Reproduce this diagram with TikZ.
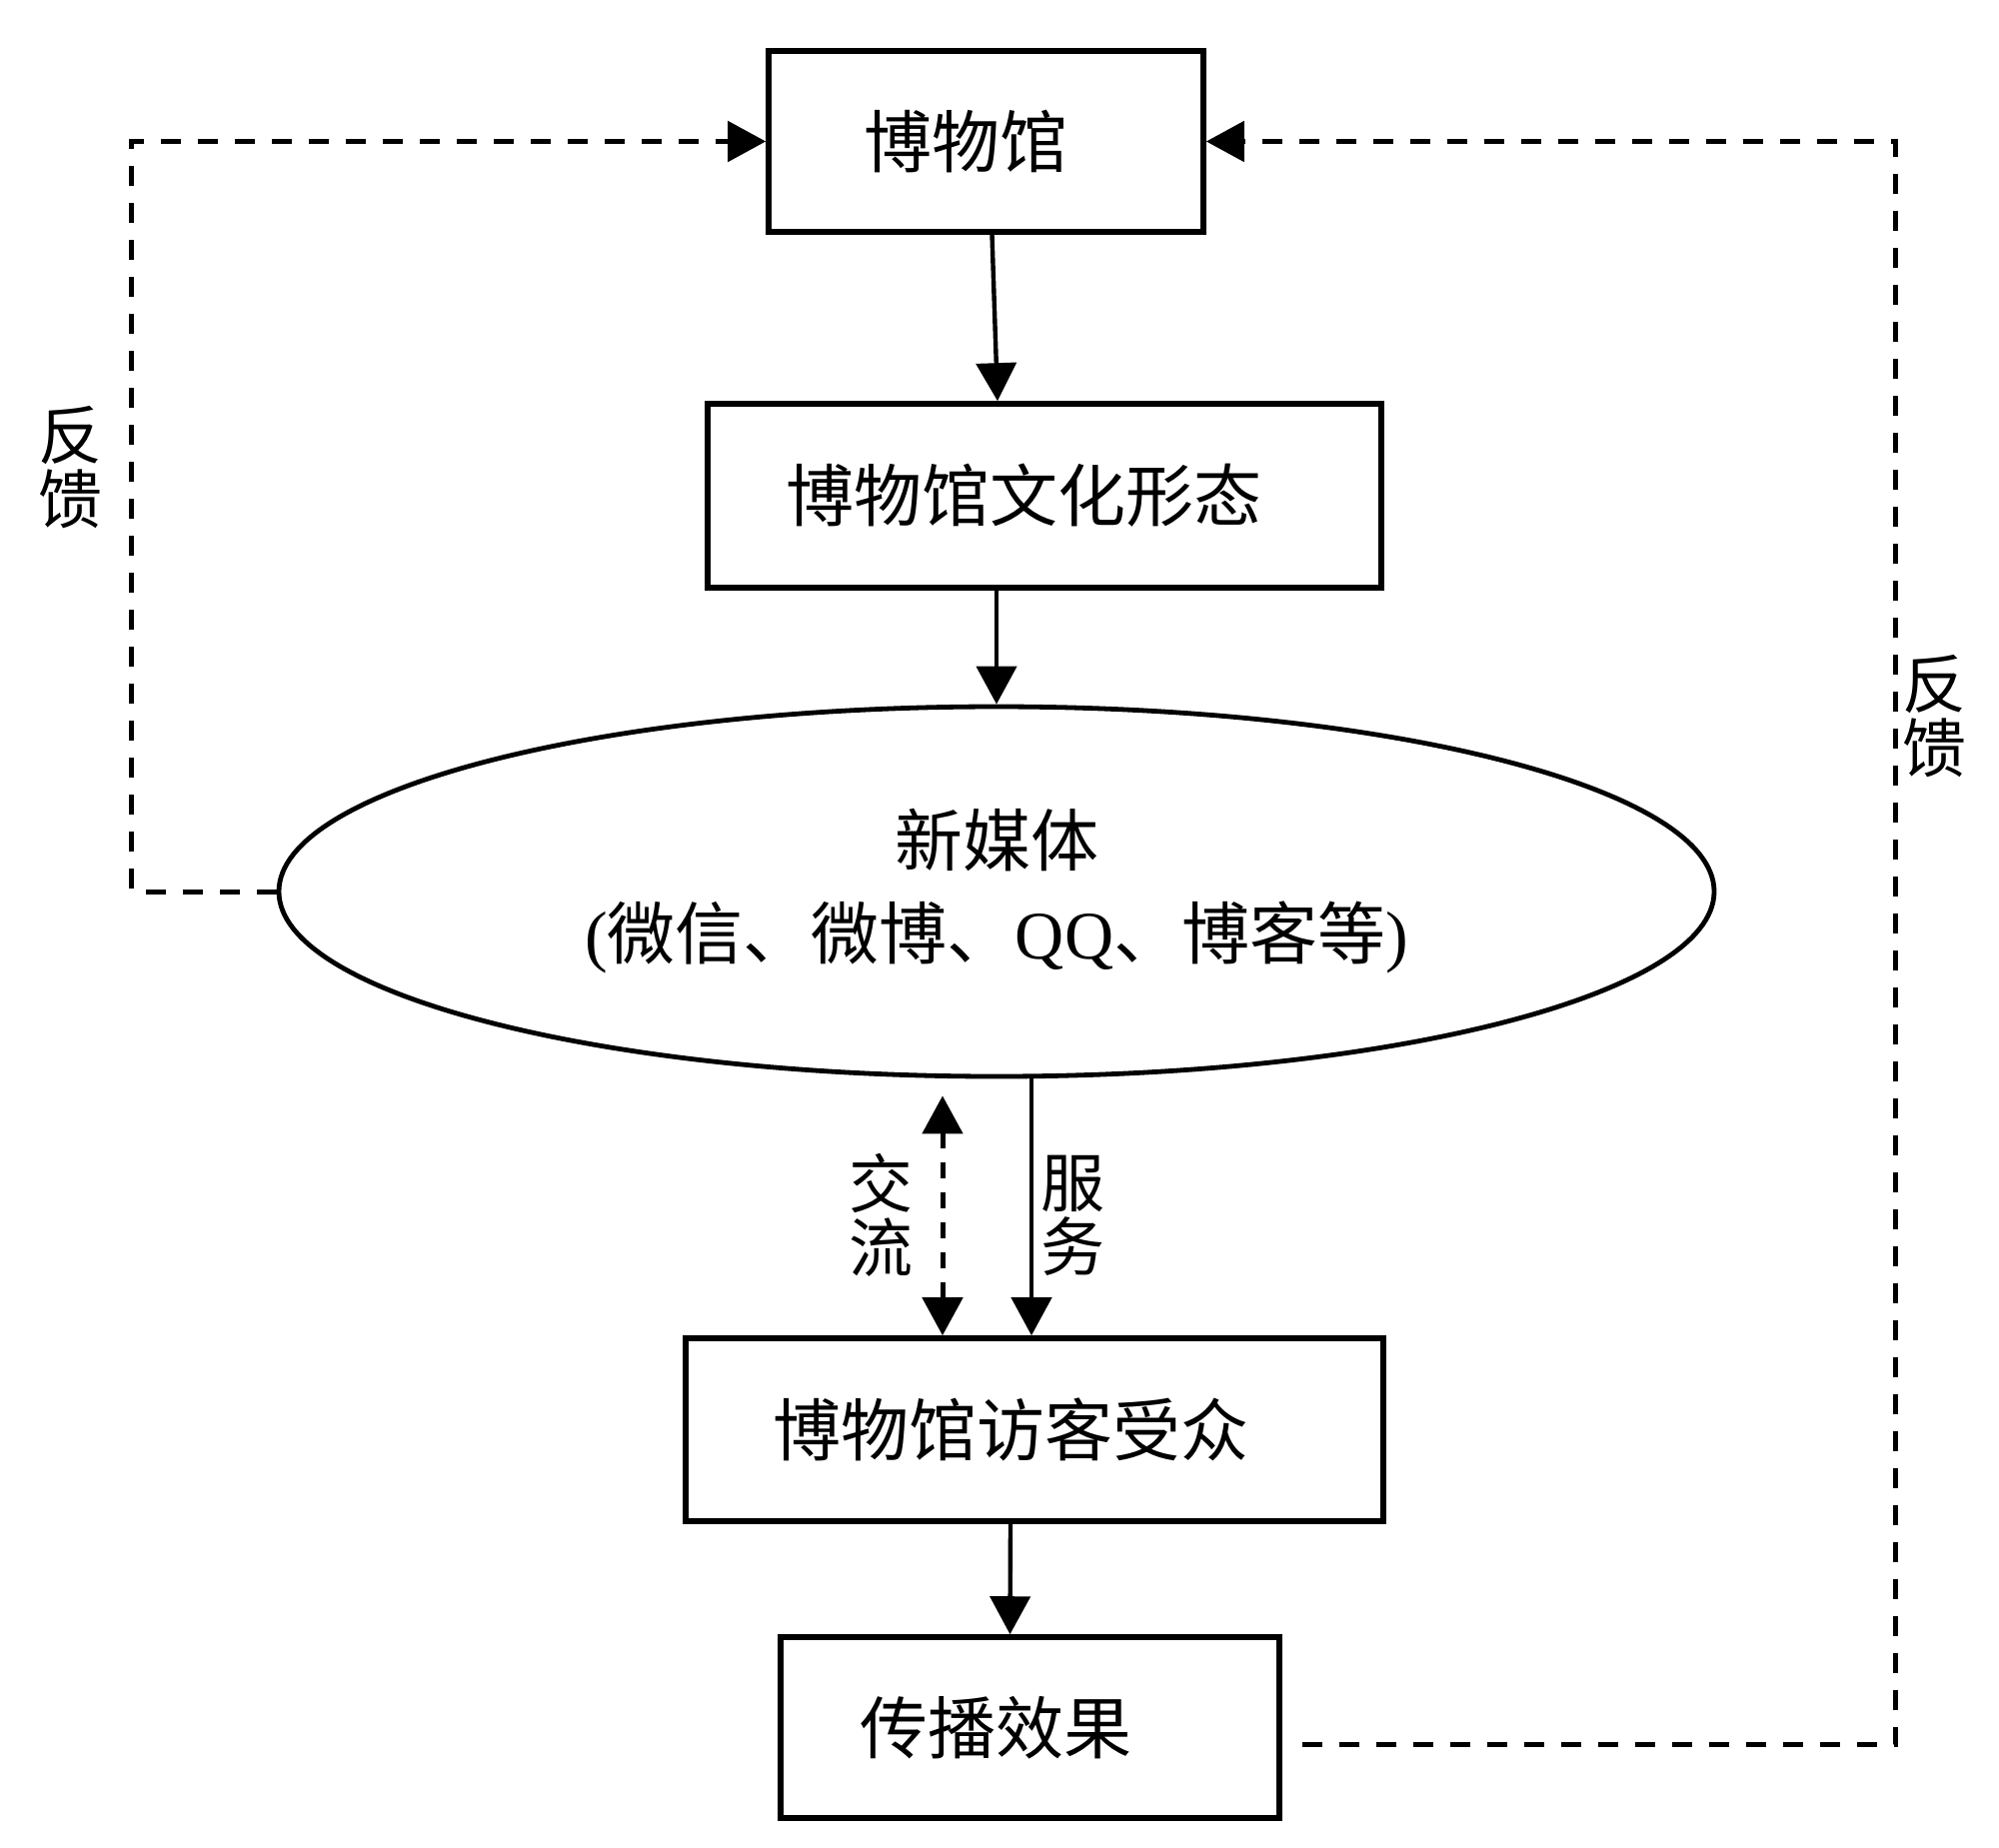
\documentclass[tikz,border=0pt]{standalone}
\usepackage{fontspec}
\setmainfont{Liberation Serif}
\newfontfamily\cjk{Noto Sans CJK SC}
\usetikzlibrary{arrows.meta,shapes.geometric,calc}
\begin{document}
\begin{tikzpicture}[x=0.5pt,y=-0.5pt,
  box/.style={draw,line width=2.8pt,rectangle,inner sep=0pt,font=\cjk\fontsize{34pt}{34pt}\selectfont},
  arr/.style={line width=2.2pt,-{Triangle[length=19pt,width=20pt]}},
  fb/.style={line width=2.5pt,dash pattern=on 10pt off 8.5pt,-{Triangle[length=19pt,width=20pt]}},
  dbl/.style={line width=2.5pt,dash pattern=on 8pt off 7pt,{Triangle[length=19pt,width=20pt]}-{Triangle[length=19pt,width=20pt]}},
  lbl/.style={font=\cjk\fontsize{32pt}{32pt}\selectfont,align=center,inner sep=0pt}]
\useasboundingbox (0,0) rectangle (2000,1848);

\node[box,minimum width=217.5pt,minimum height=90.5pt] (b1) at (986.5,141.5) {博物馆\hspace*{20pt}};
\node[box,minimum width=337pt,minimum height=92pt] (b2) at (1045,496) {博物馆文化形态\hspace*{21pt}};
\node[draw,ellipse,line width=2.4pt,minimum width=718pt,minimum height=185pt,inner sep=0pt,align=center,
      font=\fontsize{34pt}{46.5pt}\selectfont] (e) at (997,892)
      {{\cjk 新媒体}\\({\cjk 微信、微博、}QQ{\cjk 、博客等})};
\node[box,minimum width=349pt,minimum height=91.5pt] (b3) at (1035,1430.5) {博物馆访客受众\hspace*{24pt}};
\node[box,minimum width=249.5pt,minimum height=90.5pt] (b4) at (1030.5,1728.5) {传播效果\hspace*{34pt}};

\coordinate (s1) at ($(e.south)+(35,0)$);
\coordinate (s2) at ($(e.south)+(-54,17)$);
\coordinate (t1) at ($(b1.south)+(6,0)$);
\coordinate (t2) at ($(b2.north)+(-47,0)$);
\coordinate (t3) at ($(b3.south)+(-24,0)$);
\coordinate (t4) at ($(b4.north)+(-20,0)$);

\draw[arr] (t1) -- (t2);
\draw[arr] (b2.south -| e.north) -- (e.north);
\draw[arr] (s1) -- (s1 |- b3.north);
\draw[dbl] (s2) -- (s2 |- b3.north);
\draw[arr] (t3) -- (t4);

\draw[fb] (e.west) -- ++(-145,0) |- (b1.west);
\coordinate (r0) at ($(b4.east)+(20,17)$);
\coordinate (r1) at ($(b1.east)+(690,0)$);
\draw[fb] (r0) -| (r1) -- (b1.east);

\node[lbl] (l1) at (70,468) {反\\馈};
\node[lbl] (l2) at (1935,717) {反\\馈};
\node[lbl] (l3) at (881,1216) {交\\流};
\node[lbl] (l4) at (1073,1216) {服\\务};
\end{tikzpicture}
\end{document}
